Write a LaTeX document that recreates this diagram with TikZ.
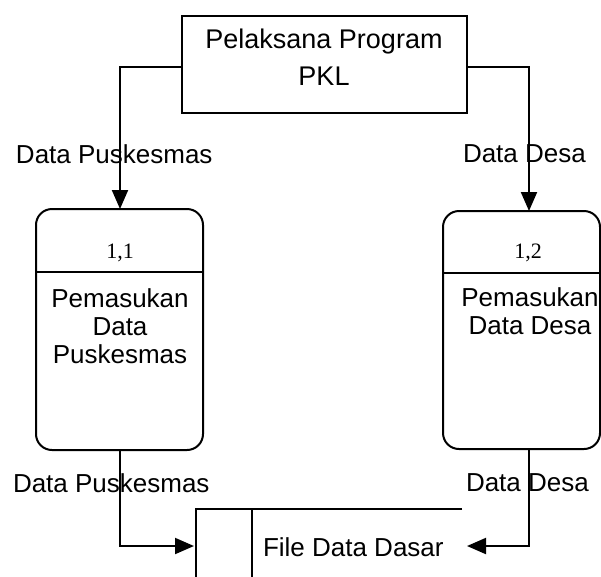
\documentclass[tikz,border=0pt]{standalone}
\usepackage{fontspec}
\setmainfont{Liberation Sans}
\newfontfamily\numfont{Liberation Serif}
\usetikzlibrary{arrows.meta}
\begin{document}
\begin{tikzpicture}[x=1pt,y=-1pt,
  line width=2pt,
  txt/.style={font=\fontsize{26}{28}\selectfont, inner sep=0pt},
  lbl/.style={font=\fontsize{26}{28}\selectfont, inner sep=0pt, anchor=west},
  num/.style={font=\numfont\fontsize{22}{24}\selectfont, inner sep=0pt},
  flow/.style={-{Triangle[length=19pt,width=16pt]}, line width=2pt}]
\useasboundingbox (0,0) rectangle (601,576);
% external entity
\node[draw, line width=2pt, minimum width=285pt, minimum height=97pt, inner sep=0pt] (ent) at (324.5,64.5) {};
\node[txt, font=\fontsize{27}{29}\selectfont] (t1) at (324,42) {Pelaksana Program};
\node[txt, font=\fontsize{27}{29}\selectfont] (t2) at (324,76) {PKL};
% processes
\draw[rounded corners=16pt] (36,209) rectangle (203,450);
\coordinate (p1top) at (120,209);
\coordinate (p1bot) at (120,450);
\draw (36,272) -- (203,272);
\node[num] (n1) at (120,253) {1,1};
\node[txt, align=center] (p1) at (120,326) {Pemasukan\\Data\\Puskesmas};
\draw[rounded corners=16pt] (443,211) rectangle (600,449);
\coordinate (p2top) at (529,211);
\coordinate (p2bot) at (529,449);
\draw (443,273) -- (600,273);
\node[num] (n2) at (528,253) {1,2};
\node[txt, align=center] (p2) at (530,311) {Pemasukan\\Data Desa};
% data store
\draw (462,509) -- (196,509) -- (196,578);
\draw (252,509) -- (252,578);
\node[txt, anchor=west] (ds) at (262,547) {File Data Dasar};
\coordinate (dsl) at (194,546);
\coordinate (dsr) at (467,546);
% flows
\draw[flow] (ent.west |- 0,67) -| (p1top);
\draw[flow] (ent.east |- 0,67) -| (p2top);
\draw[flow] (p1bot) |- (dsl);
\draw[flow] (p2bot) |- (dsr);
% labels
\node[lbl] (l1) at (15,154) {Data Puskesmas};
\node[lbl] (l2) at (462,154) {Data Desa};
\node[lbl] (l3) at (12,483) {Data Puskesmas};
\node[lbl] (l4) at (465,483) {Data Desa};
\end{tikzpicture}
\end{document}
